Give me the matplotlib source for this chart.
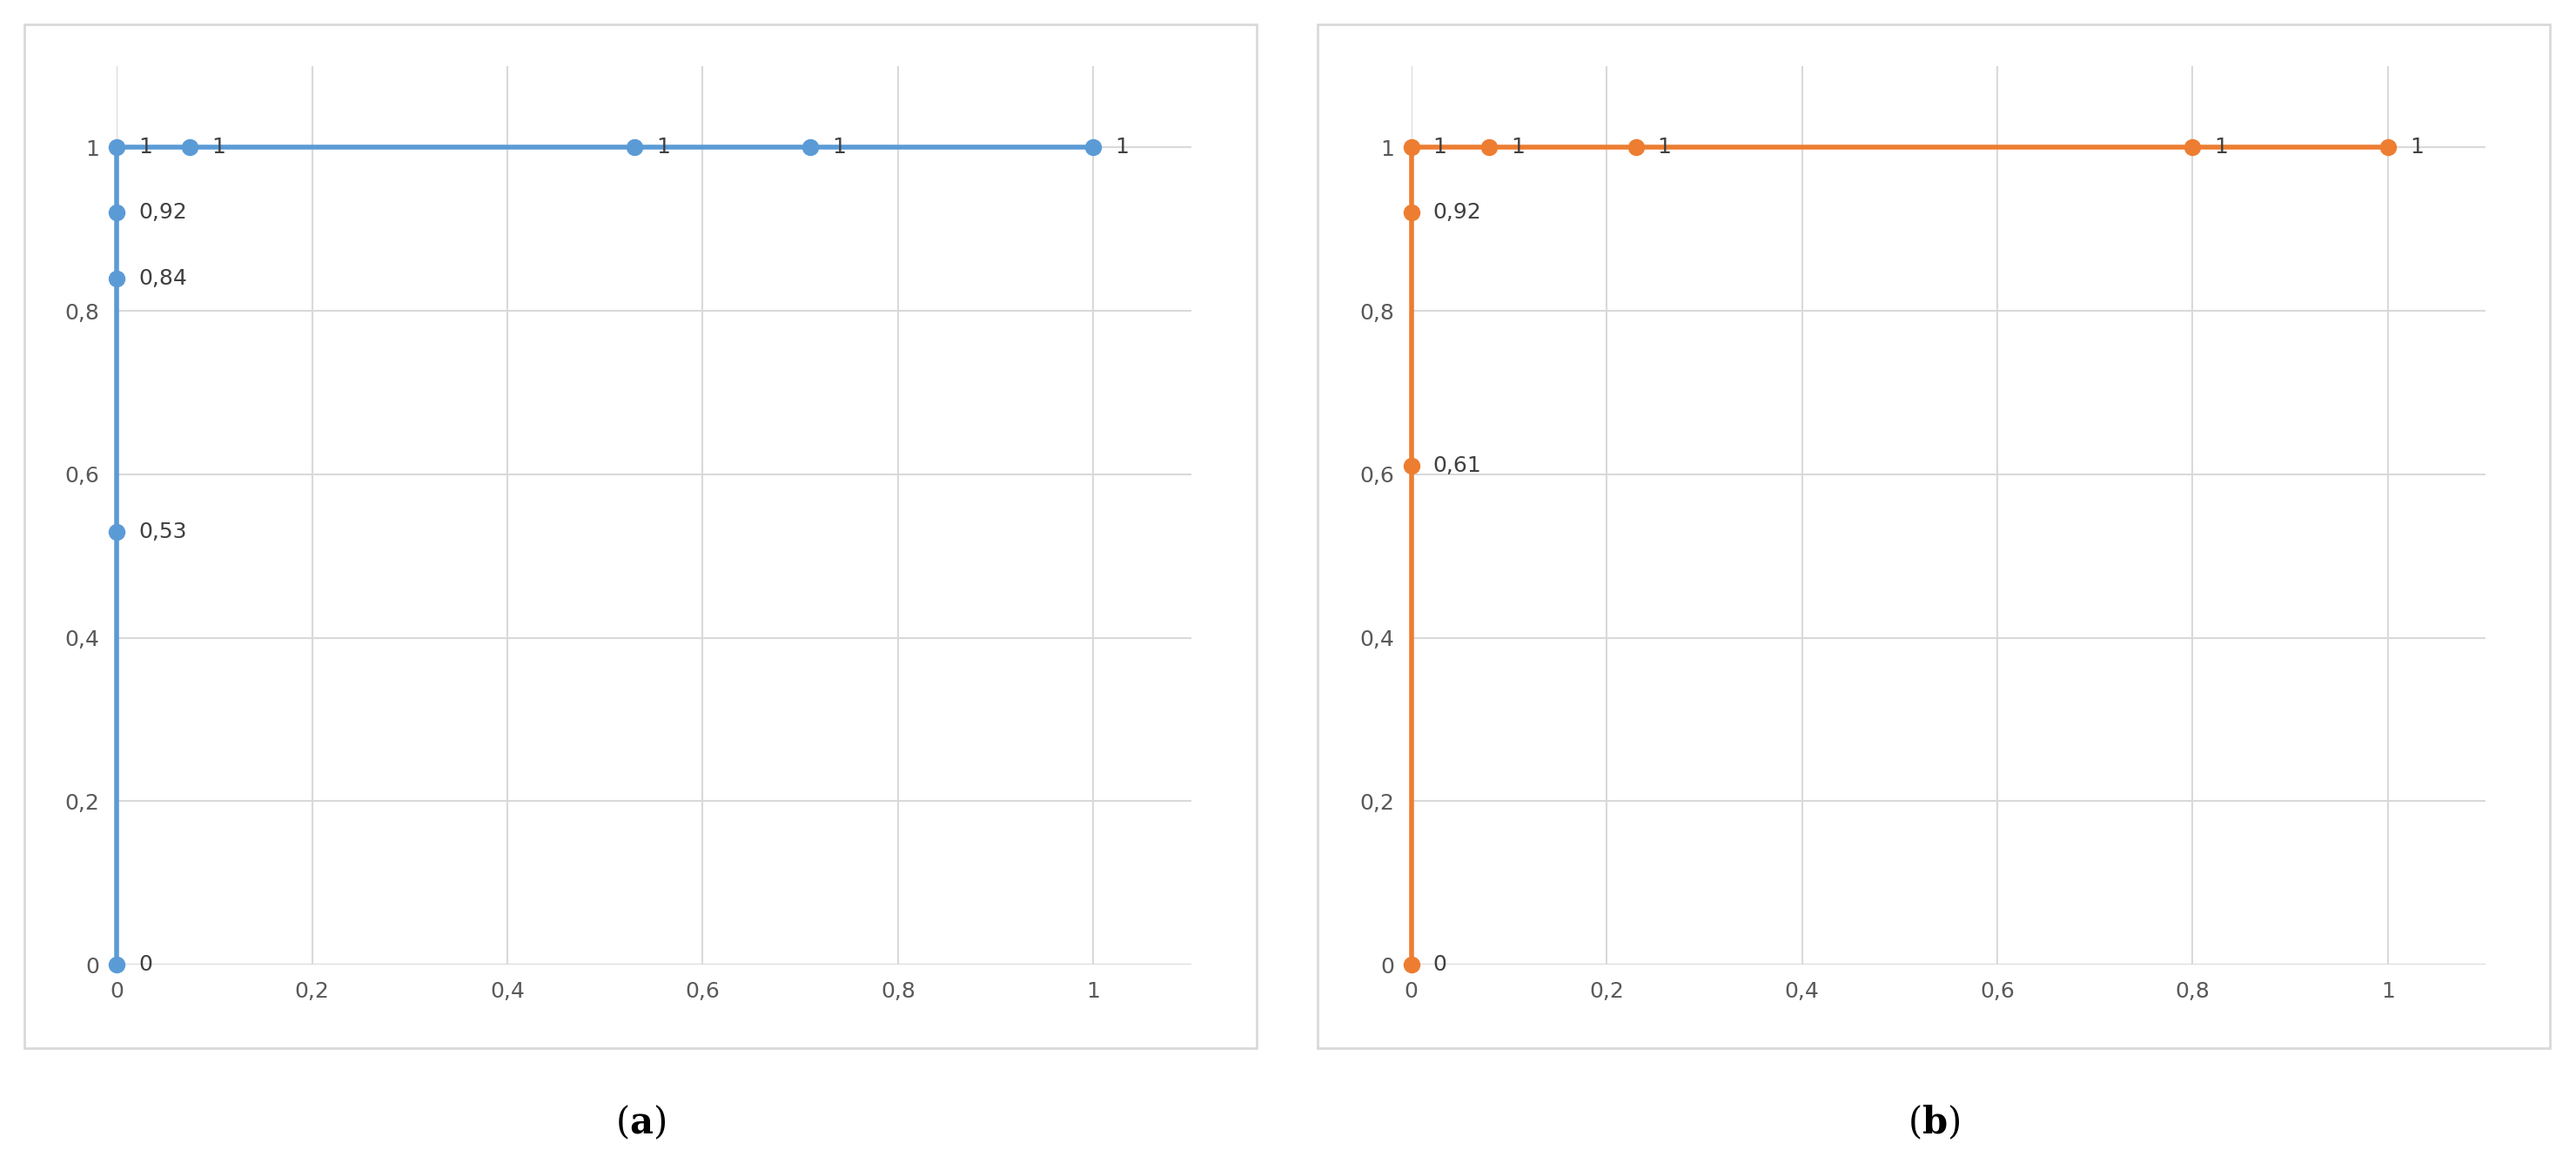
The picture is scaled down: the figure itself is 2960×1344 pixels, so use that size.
import matplotlib.pyplot as plt
from matplotlib.patches import Rectangle

plt.rcParams['mathtext.fontset'] = 'dejavuserif'

# ROC-like curves, (a) and (b)
fpr_a = [0, 0, 0, 0, 0, 0.075, 0.53, 0.71, 1]
tpr_a = [0, 0.53, 0.84, 0.92, 1, 1, 1, 1, 1]
fpr_b = [0, 0, 0, 0, 0.08, 0.23, 0.8, 1]
tpr_b = [0, 0.61, 0.92, 1, 1, 1, 1, 1]
ticks = [0, 0.2, 0.4, 0.6, 0.8, 1]
tick_labels = ['0', '0,2', '0,4', '0,6', '0,8', '1']
captions = ['a', 'b']

W, H = 1568.0, 712.0
fig = plt.figure(figsize=(29.6, 13.44), dpi=100)


def fmt(v):
    return ('%g' % v).replace('.', ',')


panels = [(fpr_a, tpr_a, '#5B9BD5', 15, 71), (fpr_b, tpr_b, '#ED7D31', 802, 859)]
for i, (xs, ys, col, fx, ax_x) in enumerate(panels):
    fig.patches.append(Rectangle((fx / W, (H - 638) / H), 750 / W, 623 / H,
                                 transform=fig.transFigure, fill=False,
                                 edgecolor='#d9d9d9', linewidth=2))
    ax = fig.add_axes([ax_x / W, (H - 587) / H, 654 / W, 547 / H])
    ax.plot(xs, ys, color=col, lw=4, marker='o', ms=13, zorder=3, clip_on=False)
    for x, y in zip(xs, ys):
        ax.annotate(fmt(y), (x, y), xytext=(18, 0), textcoords='offset points',
                    va='center', ha='left', fontsize=18, color='#404040')
    ax.set_xlim(0, 1.1)
    ax.set_ylim(0, 1.1)
    ax.set_xticks(ticks, tick_labels)
    ax.set_yticks(ticks, tick_labels)
    ax.tick_params(length=0, labelsize=18, labelcolor='#595959', pad=14)
    ax.grid(True, color='#d9d9d9', lw=1.5)
    ax.set_axisbelow(True)
    for s in ax.spines.values():
        s.set_visible(False)
    fig.text((fx + 375) / W, (H - 683) / H, '(' + r'$\mathbf{' + captions[i] + '}$' + ')',
             ha='center', va='center', fontsize=30, family='DejaVu Serif')

fig.savefig('out.png')
